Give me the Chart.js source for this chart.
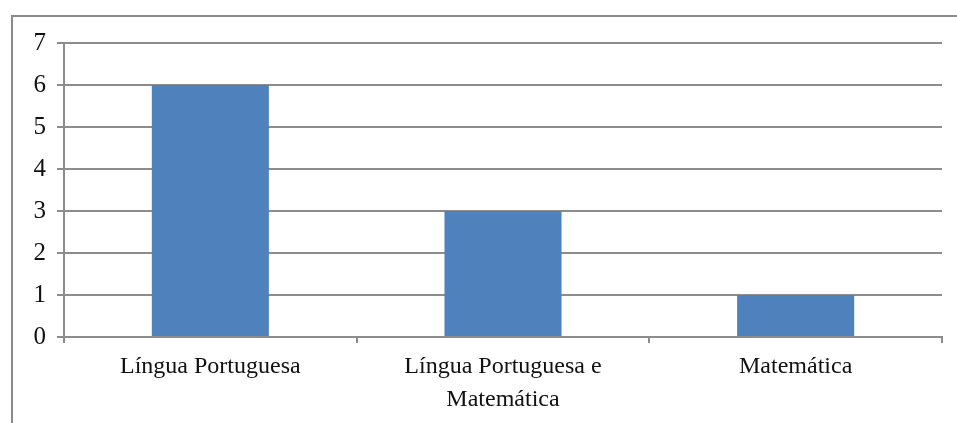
<!DOCTYPE html>
<html>
<head>
<meta charset="utf-8">
<script src="https://cdn.jsdelivr.net/npm/chart.js@4/dist/chart.umd.min.js"></script>
<style>
  html, body { margin: 0; padding: 0; background: #fff; }
  #wrap { position: relative; width: 957px; height: 423px; overflow: hidden; }
  #frame { position: absolute; left: 11px; top: 15px; width: 960px; height: 420px;
           border-top: 2px solid #8a8a8a; border-left: 2px solid #8a8a8a; }
  #chart { position: absolute; left: 0; top: 0; }
</style>
</head>
<body>
<div id="wrap">
  <div id="frame"></div>
  <canvas id="chart" width="957" height="423"></canvas>
</div>
<script>
// Disciplinas e número de ocorrências
const categories = [
  'Língua Portuguesa',
  ['Língua Portuguesa e', 'Matemática'],
  'Matemática'
];
const values = [6, 3, 1];
const yTicks = [0, 1, 2, 3, 4, 5, 6, 7];

const gridColor = '#8c8c8c';
const fontFamily = '"Liberation Serif", "DejaVu Serif", serif';

new Chart(document.getElementById('chart'), {
  type: 'bar',
  data: {
    labels: categories,
    datasets: [{
      data: values,
      backgroundColor: '#4f81bd',
      borderWidth: 0,
      barPercentage: 0.4,
      categoryPercentage: 1.0
    }]
  },
  options: {
    responsive: false,
    animation: false,
    layout: { padding: { top: 43, right: 15, left: 0, bottom: 0 } },
    plugins: { legend: { display: false }, tooltip: { enabled: false } },
    scales: {
      x: {
        offset: true,
        afterFit: (s) => { s.height = 86; },
        grid: { offset: true, drawOnChartArea: false, drawTicks: true, tickLength: 6,
                color: gridColor, lineWidth: 2 },
        border: { display: true, color: gridColor, width: 2 },
        ticks: { color: '#111', padding: 7, maxRotation: 0, autoSkip: false,
                 font: { family: fontFamily, size: 24, lineHeight: 1.38 } }
      },
      y: {
        min: 0, max: 7,
        afterFit: (s) => { s.width = 64; },
        afterBuildTicks: (s) => { s.ticks = yTicks.map(v => ({ value: v })); },
        grid: { color: gridColor, lineWidth: 2, tickLength: 7, drawTicks: true },
        border: { display: true, color: gridColor, width: 2 },
        ticks: { color: '#111', padding: 11,
                 font: { family: fontFamily, size: 25 } }
      }
    }
  }
});
</script>
</body>
</html>
